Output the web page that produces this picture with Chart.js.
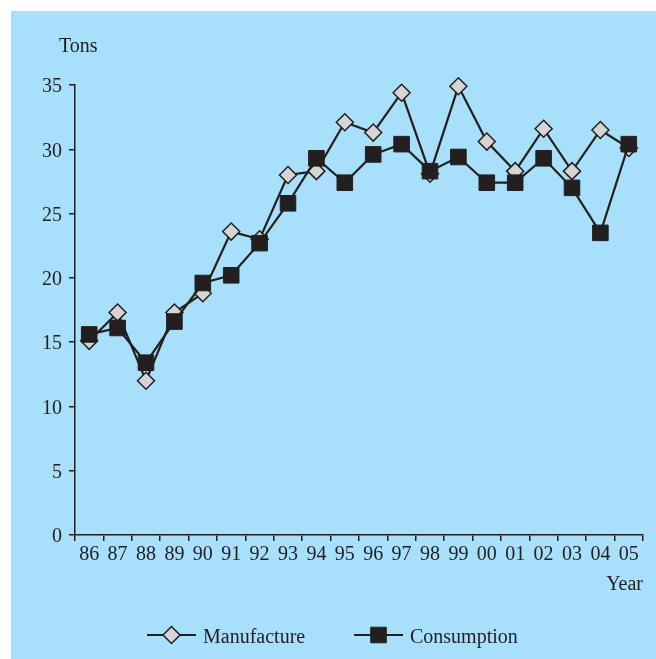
<!DOCTYPE html>
<html>
<head>
<meta charset="utf-8">
<script src="https://cdn.jsdelivr.net/npm/chart.js@4/dist/chart.umd.min.js"></script>
<style>
  html, body { margin:0; padding:0; background:#fff; }
  #wrap { position:relative; width:656px; height:659px; }
</style>
</head>
<body>
<div id="wrap"><canvas id="c" width="656" height="659"></canvas></div>
<script>
// Manufacture vs consumption, tons per year
const years = ['86','87','88','89','90','91','92','93','94','95','96','97','98','99','00','01','02','03','04','05'];
const manufacture = [15.1, 17.3, 12.0, 17.3, 18.8, 23.6, 23.0, 28.0, 28.3, 32.1, 31.3, 34.4, 28.1, 34.9, 30.6, 28.3, 31.6, 28.3, 31.5, 30.1];
const consumption = [15.6, 16.1, 13.4, 16.6, 19.6, 20.2, 22.7, 25.8, 29.3, 27.4, 29.6, 30.4, 28.3, 29.4, 27.4, 27.4, 29.3, 27.0, 23.5, 30.4];
const yTicks = [0, 5, 10, 15, 20, 25, 30, 35];

const INK = '#231f20';
const BG = '#a8dffa';
const FONT = '"Liberation Serif", "Times New Roman", serif';

const decor = {
  id: 'decor',
  beforeDraw(chart){
    const ctx = chart.ctx;
    ctx.save();
    ctx.fillStyle = BG;
    ctx.fillRect(11, 11, chart.width - 11, chart.height - 11);
    ctx.restore();
  },
  afterDraw(chart){
    const ctx = chart.ctx;
    const area = chart.chartArea;
    ctx.save();
    ctx.fillStyle = INK;
    ctx.font = '20px ' + FONT;
    ctx.textBaseline = 'alphabetic';
    ctx.textAlign = 'left';
    ctx.fillText('Tons', 59, 52);
    ctx.textAlign = 'right';
    ctx.fillText('Year', area.right, 590);

    // legend: line - marker - line, then label
    const ly = 635;
    const items = [
      { x0: 147, label: 'Manufacture', ds: chart.data.datasets[0] },
      { x0: 354, label: 'Consumption', ds: chart.data.datasets[1] }
    ];
    items.forEach(it => {
      ctx.strokeStyle = INK;
      ctx.lineWidth = 2;
      ctx.beginPath();
      ctx.moveTo(it.x0, ly);
      ctx.lineTo(it.x0 + 49, ly);
      ctx.stroke();
      ctx.fillStyle = it.ds.pointBackgroundColor;
      ctx.strokeStyle = INK;
      ctx.lineWidth = it.ds.pointBorderWidth;
      Chart.helpers.drawPoint(ctx, {
        pointStyle: it.ds.pointStyle, rotation: 0,
        radius: it.ds.pointRadius, borderWidth: it.ds.pointBorderWidth
      }, it.x0 + 24.5, ly);
      ctx.fillStyle = INK;
      ctx.textAlign = 'left';
      ctx.fillText(it.label, it.x0 + 56, 643);
    });
    ctx.restore();
  }
};

new Chart(document.getElementById('c').getContext('2d'), {
  type: 'line',
  data: {
    labels: years,
    datasets: [
      { label:'Manufacture', data: manufacture, order: 1, clip: false,
        borderColor: INK, borderWidth: 2.2, tension: 0, fill: false,
        pointStyle: 'rectRot', pointRadius: 8.5, pointBackgroundColor: '#d5d5d5',
        pointBorderColor: INK, pointBorderWidth: 1.5 },
      { label:'Consumption', data: consumption, order: 0, clip: false,
        borderColor: INK, borderWidth: 2.2, tension: 0, fill: false,
        pointStyle: 'rect', pointRadius: 11, pointBackgroundColor: INK,
        pointBorderColor: INK, pointBorderWidth: 1 }
    ]
  },
  options: {
    responsive: false,
    animation: false,
    layout: { padding: { left: 11, right: 13, top: 85, bottom: 94 } },
    plugins: { legend: { display: false }, tooltip: { enabled: false } },
    scales: {
      x: {
        offset: true,
        grid: { offset: true, drawOnChartArea: false, drawTicks: true, tickLength: 6, color: INK, lineWidth: 1.5 },
        border: { display: true, color: INK, width: 1.5 },
        ticks: { color: INK, font: { family: FONT, size: 20 }, padding: 2, maxRotation: 0, autoSkip: false },
        afterFit(scale){ scale.height = 30; }
      },
      y: {
        min: 0, max: 35,
        afterBuildTicks(scale){ scale.ticks = yTicks.map(v => ({ value: v })); },
        grid: { drawOnChartArea: false, drawTicks: true, tickLength: 6, color: INK, lineWidth: 1.5 },
        border: { display: true, color: INK, width: 1.5 },
        ticks: { color: INK, font: { family: FONT, size: 20 }, padding: 7, labelOffset: 2 },
        afterFit(scale){ scale.width = 64; }
      }
    }
  },
  plugins: [decor]
});
</script>
</body>
</html>
